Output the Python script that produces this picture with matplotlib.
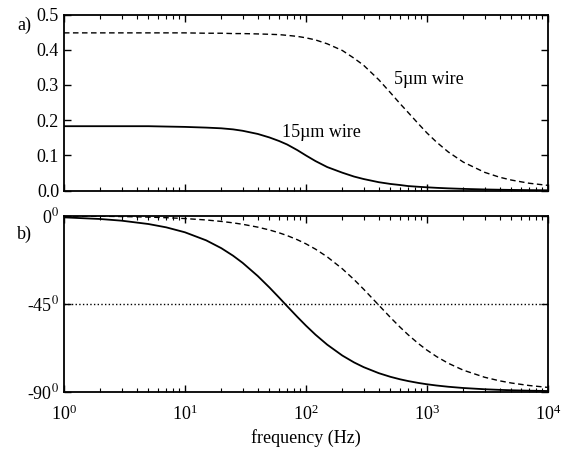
import matplotlib
matplotlib.use('Agg')
import matplotlib.pyplot as plt
from matplotlib.ticker import FixedLocator, FormatStrFormatter, LogLocator, NullFormatter

plt.rcParams['font.family'] = ['Liberation Serif', 'DejaVu Serif']
plt.rcParams['mathtext.fontset'] = 'stix'
plt.rcParams['font.size'] = 13

# frequency points (Hz)
freq = [1, 2, 3, 5, 7, 10, 15, 20, 25, 30, 40, 50, 60, 70, 85, 100, 120, 150, 200, 250,
        300, 400, 500, 600, 700, 850, 1000, 1200, 1500, 2000, 3000, 4000, 5000, 7000, 10000]

# a) amplitude
amp_15um = [0.183, 0.183, 0.183, 0.183, 0.182, 0.181, 0.179, 0.177, 0.174, 0.170, 0.161, 0.151,
            0.141, 0.131, 0.115, 0.100, 0.084, 0.067, 0.051, 0.040, 0.033, 0.024, 0.019, 0.016,
            0.013, 0.011, 0.0095, 0.008, 0.0065, 0.005, 0.0034, 0.0026, 0.0021, 0.0015, 0.001]
amp_5um = [0.448, 0.448, 0.448, 0.448, 0.448, 0.448, 0.447, 0.447, 0.446, 0.446, 0.445, 0.444,
           0.443, 0.441, 0.438, 0.434, 0.428, 0.417, 0.398, 0.376, 0.356, 0.315, 0.278, 0.247,
           0.222, 0.190, 0.164, 0.138, 0.110, 0.081, 0.052, 0.038, 0.030, 0.021, 0.015]

# b) phase (degrees)
phase_15um = [-0.86, -1.71, -2.56, -4.27, -5.96, -8.49, -12.62, -16.62, -20.46, -24.12, -30.84,
              -36.73, -41.84, -46.26, -51.75, -56.18, -60.83, -65.93, -71.49, -75.0, -77.41,
              -80.49, -82.37, -83.63, -84.53, -85.49, -86.17, -86.80, -87.44, -88.08, -88.72,
              -89.04, -89.23, -89.45, -89.62]
phase_5um = [-0.15, -0.29, -0.44, -0.73, -1.03, -1.47, -2.20, -2.94, -3.67, -4.40, -5.86, -7.31,
             -8.75, -10.18, -12.30, -14.38, -17.10, -21.04, -27.15, -32.66, -37.57, -45.72,
             -52.05, -56.98, -60.88, -65.36, -68.70, -71.99, -75.43, -78.97, -82.59, -84.43,
             -85.54, -86.81, -87.77]

phase_ticks = [0, -45, -90]
phase_labels = ['0$^0$', '-45$^0$', '-90$^0$']

fig = plt.figure(figsize=(5.81, 4.55), dpi=100)
ax1 = fig.add_axes([0.110, 0.581, 0.833, 0.387])
ax2 = fig.add_axes([0.110, 0.139, 0.833, 0.387])

def estilo(ax):
    ax.set_xscale('log')
    ax.set_xlim(1, 1e4)
    ax.tick_params(which='both', direction='in', top=True, right=True, labelsize=13)
    ax.tick_params(which='major', length=5, width=1)
    ax.tick_params(which='minor', length=3, width=0.8)
    ax.tick_params(axis='x', which='major', pad=9)
    ax.xaxis.set_major_locator(LogLocator(base=10, numticks=10))
    ax.xaxis.set_minor_locator(LogLocator(base=10, subs=range(2, 10), numticks=50))
    ax.xaxis.set_minor_formatter(NullFormatter())
    for s in ax.spines.values():
        s.set_linewidth(1.3)

# painel a
estilo(ax1)
ax1.plot(freq, amp_5um, 'k--', lw=1.0, dashes=(4, 2.5))
ax1.plot(freq, amp_15um, 'k-', lw=1.3)
ax1.set_ylim(0, 0.5)
ax1.set_yticks([0, 0.1, 0.2, 0.3, 0.4, 0.5])
ax1.yaxis.set_major_formatter(FormatStrFormatter('%.1f'))
ax1.set_xticklabels([])
ax1.text(63, 0.166, '15\u00b5m wire', fontsize=13, va='center', ha='left')
ax1.text(530, 0.316, '5\u00b5m wire', fontsize=13, va='center', ha='left')

# painel b
estilo(ax2)
ax2.axhline(-45, color='k', ls=':', lw=1.0)
ax2.plot(freq, phase_5um, 'k--', lw=1.0, dashes=(4, 2.5))
ax2.plot(freq, phase_15um, 'k-', lw=1.3)
ax2.set_ylim(-90, 0)
ax2.yaxis.set_major_locator(FixedLocator(phase_ticks))
ax2.set_yticklabels(phase_labels)
ax2.set_xlabel('frequency (Hz)', fontsize=13, labelpad=4)

fig.text(0.030, 0.945, 'a)', fontsize=13, ha='left', va='center')
fig.text(0.030, 0.486, 'b)', fontsize=13, ha='left', va='center')

plt.savefig('out.png', dpi=100)
plt.close()
